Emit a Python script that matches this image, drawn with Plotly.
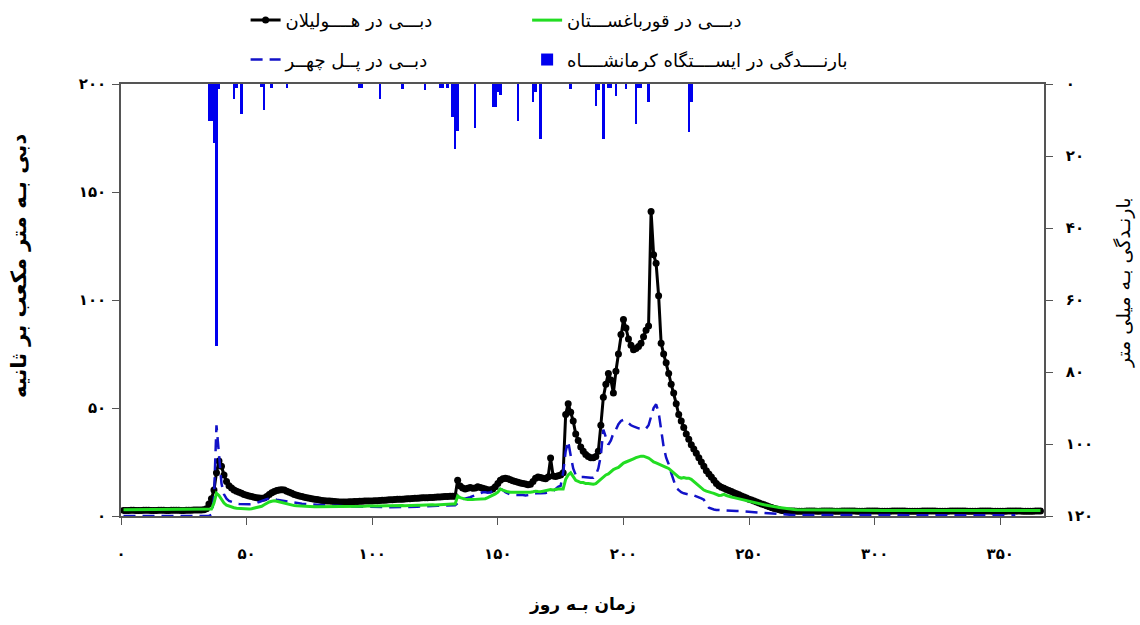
import plotly.graph_objects as go

# Day of the water year
days = list(range(1, 367))

# Daily discharge (m3/s) at Hulilan
q_hulilan = [
    2.6, 2.6, 2.6, 2.7, 2.7, 2.6, 2.6, 2.6, 2.7, 2.7,
    2.7, 2.6, 2.6, 2.6, 2.7, 2.7, 2.7, 2.6, 2.6, 2.7,
    2.7, 2.7, 2.7, 2.6, 2.6, 2.7, 2.7, 2.7, 2.8, 2.8,
    2.8, 2.8, 2.9, 3.4, 5.5, 8.0, 12.0, 20.0, 25.5, 23.0,
    19.0, 16.0, 14.0, 13.0, 12.0, 11.5, 11.0, 10.5, 10.0, 9.6,
    9.3, 9.0, 8.7, 8.5, 8.3, 8.2, 8.3, 9.0, 10.0, 10.8,
    11.3, 11.8, 12.0, 12.2, 12.0, 11.5, 11.0, 10.5, 10.0, 9.6,
    9.3, 9.0, 8.7, 8.4, 8.2, 8.0, 7.8, 7.6, 7.4, 7.2,
    7.1, 7.0, 6.9, 6.8, 6.7, 6.6, 6.5, 6.5, 6.5, 6.5,
    6.6, 6.6, 6.7, 6.7, 6.8, 6.8, 6.9, 6.9, 7.0, 7.0,
    7.1, 7.1, 7.2, 7.3, 7.3, 7.4, 7.5, 7.5, 7.6, 7.7,
    7.8, 7.8, 7.9, 8.0, 8.0, 8.1, 8.2, 8.2, 8.3, 8.4,
    8.4, 8.5, 8.6, 8.6, 8.7, 8.8, 8.8, 8.9, 9.0, 9.0,
    9.1, 9.1, 9.2, 16.6, 13.9, 13.0, 12.5, 12.8, 13.2, 12.8,
    13.0, 13.5, 13.2, 12.8, 12.5, 12.2, 12.0, 12.5, 13.5, 15.0,
    16.5, 17.2, 17.5, 17.2, 16.8, 16.3, 16.0, 15.6, 15.3, 15.0,
    14.8, 14.5, 14.7, 16.0, 17.5, 18.0, 17.8, 17.5, 17.2, 18.0,
    26.8, 18.5, 18.3, 18.6, 19.0, 20.0, 47.0, 52.0, 48.0, 44.0,
    38.0, 35.0, 32.0, 30.0, 28.5, 27.5, 27.0, 27.0, 27.5, 30.0,
    42.0, 55.0, 61.0, 66.0, 63.0, 57.0, 67.0, 75.0, 84.0, 91.0,
    87.0, 82.0, 79.0, 77.0, 77.5, 78.5, 80.0, 83.0, 86.0, 88.0,
    141.0, 121.0, 117.0, 102.0, 80.0, 75.0, 71.0, 66.0, 61.0, 57.0,
    52.0, 47.0, 44.0, 41.0, 38.0, 35.5, 33.0, 31.0, 29.0, 27.0,
    25.0, 23.0, 21.0, 19.5, 18.0, 16.5, 15.0, 14.0, 13.3, 12.8,
    12.3, 11.8, 11.3, 10.8, 10.3, 9.8, 9.3, 8.8, 8.3, 7.8,
    7.4, 6.9, 6.5, 6.0, 5.6, 5.2, 4.7, 4.3, 3.9, 3.5,
    3.2, 2.9, 2.6, 2.4, 2.3, 2.3, 2.3, 2.3, 2.2, 2.2,
    2.2, 2.2, 2.3, 2.3, 2.3, 2.3, 2.2, 2.2, 2.3, 2.3,
    2.3, 2.3, 2.3, 2.2, 2.2, 2.2, 2.3, 2.3, 2.3, 2.3,
    2.3, 2.3, 2.2, 2.2, 2.2, 2.2, 2.3, 2.3, 2.3, 2.3,
    2.3, 2.2, 2.2, 2.2, 2.2, 2.2, 2.3, 2.3, 2.3, 2.3,
    2.3, 2.3, 2.2, 2.2, 2.2, 2.2, 2.2, 2.2, 2.3, 2.3,
    2.3, 2.3, 2.3, 2.3, 2.2, 2.2, 2.2, 2.2, 2.2, 2.3,
    2.3, 2.3, 2.3, 2.3, 2.3, 2.3, 2.2, 2.2, 2.2, 2.2,
    2.2, 2.3, 2.3, 2.3, 2.3, 2.3, 2.2, 2.2, 2.2, 2.2,
    2.2, 2.2, 2.3, 2.3, 2.3, 2.3, 2.3, 2.3, 2.2, 2.2,
    2.2, 2.2, 2.2, 2.3, 2.3, 2.3,
]

# Daily discharge (m3/s) at Ghorbaghestan
q_ghorbaghestan = [
    2.9, 2.9, 2.9, 3.0, 2.9, 2.9, 2.9, 3.0, 3.0, 2.9,
    2.9, 2.9, 3.0, 2.9, 2.9, 2.9, 3.0, 2.9, 2.9, 2.9,
    3.0, 3.0, 2.9, 2.9, 2.9, 3.0, 2.9, 2.9, 2.9, 3.0,
    2.9, 2.9, 3.0, 3.0, 3.1, 3.2, 6.0, 10.5, 9.5, 7.5,
    6.0, 5.0, 4.5, 4.0, 3.8, 3.6, 3.5, 3.4, 3.3, 3.2,
    3.2, 3.4, 3.6, 3.8, 4.0, 4.5, 5.2, 6.0, 6.5, 6.8,
    7.0, 6.8, 6.5, 6.2, 5.8, 5.4, 5.1, 4.9, 4.8, 4.7,
    4.6, 4.6, 4.5, 4.5, 4.4, 4.4, 4.3, 4.3, 4.3, 4.2,
    4.2, 4.2, 4.3, 4.2, 4.3, 4.3, 4.3, 4.4, 4.3, 4.4,
    4.4, 4.4, 4.5, 4.4, 4.5, 4.5, 4.5, 4.6, 4.5, 4.6,
    4.6, 4.6, 4.7, 4.6, 4.7, 4.7, 4.7, 4.8, 4.7, 4.8,
    4.8, 4.9, 4.8, 4.9, 4.9, 5.0, 4.9, 5.0, 5.0, 5.1,
    5.0, 5.1, 5.1, 5.2, 5.1, 5.2, 5.2, 5.3, 5.3, 5.4,
    5.4, 5.5, 5.5, 9.2, 8.5, 8.0, 7.8, 7.6, 7.5, 7.6,
    7.7, 7.8, 7.7, 7.7, 8.0, 8.5, 9.0, 9.6, 10.2, 11.0,
    12.5, 12.0, 11.5, 11.2, 11.0, 11.0, 10.8, 10.8, 11.0, 11.0,
    10.8, 10.8, 11.0, 11.2, 11.5, 11.3, 11.2, 11.5, 11.8, 12.0,
    12.2, 12.0, 12.3, 12.5, 12.5, 12.5, 17.0, 19.0, 20.0, 18.0,
    16.5, 16.0, 15.5, 15.5, 15.0, 15.0, 14.7, 14.7, 15.0, 16.0,
    17.0, 18.0, 19.0, 19.5, 20.5, 21.5, 22.0, 22.5, 23.5, 24.5,
    25.0, 25.4, 26.0, 26.5, 27.0, 27.5, 27.7, 27.7, 27.3, 26.8,
    26.0, 25.0, 24.6, 24.0, 23.5, 23.0, 22.5, 22.0, 21.0, 20.0,
    19.0, 18.0, 17.5, 17.8, 17.5, 17.5, 17.0, 16.0, 15.0, 14.0,
    13.0, 12.0, 11.5, 11.3, 10.8, 10.5, 10.0, 9.5, 9.6, 10.0,
    9.5, 9.0, 8.8, 8.5, 8.2, 8.0, 7.6, 7.3, 7.0, 6.8,
    6.5, 6.3, 6.1, 5.8, 5.5, 5.2, 5.0, 4.7, 4.5, 4.3,
    4.1, 3.9, 3.7, 3.5, 3.3, 3.1, 3.0, 3.0, 2.9, 2.9,
    2.9, 2.8, 2.8, 2.9, 2.8, 2.8, 2.7, 2.8, 2.8, 2.7,
    2.7, 2.8, 2.7, 2.7, 2.8, 2.7, 2.6, 2.7, 2.7, 2.6,
    2.7, 2.7, 2.6, 2.6, 2.7, 2.6, 2.6, 2.7, 2.6, 2.6,
    2.6, 2.7, 2.6, 2.6, 2.5, 2.6, 2.6, 2.5, 2.6, 2.6,
    2.5, 2.6, 2.5, 2.5, 2.6, 2.5, 2.5, 2.6, 2.5, 2.5,
    2.5, 2.6, 2.5, 2.5, 2.4, 2.5, 2.5, 2.4, 2.5, 2.5,
    2.4, 2.5, 2.5, 2.4, 2.4, 2.5, 2.4, 2.4, 2.5, 2.4,
    2.4, 2.5, 2.4, 2.4, 2.4, 2.5, 2.4, 2.4, 2.4, 2.5,
    2.4, 2.4, 2.5, 2.4, 2.4, 2.4, 2.5, 2.4, 2.4, 2.4,
    2.5, 2.4, 2.4, 2.5, 2.5, 2.5,
]

# Daily discharge (m3/s) at Pol-e Chehr
q_polchehr = [
    0.0, 0.0, 0.0, 0.0, 0.0, 0.0, 0.0, 0.0, 0.0, 0.0,
    0.0, 0.0, 0.0, 0.0, 0.0, 0.0, 0.0, 0.0, 0.0, 0.0,
    0.0, 0.0, 0.0, 0.0, 0.0, 0.0, 0.0, 0.0, 0.0, 0.0,
    0.0, 0.0, 0.0, 0.0, 0.0, 0.5, 8.0, 42.0, 30.0, 15.0,
    10.0, 8.0, 7.0, 6.5, 6.0, 5.8, 5.6, 5.5, 5.4, 5.3,
    5.4, 5.5, 5.7, 6.0, 6.5, 7.0, 7.5, 7.8, 8.0, 8.0,
    7.8, 7.5, 7.3, 7.0, 6.8, 6.6, 6.5, 6.3, 6.1, 5.9,
    5.8, 5.7, 5.6, 5.5, 5.4, 5.3, 5.2, 5.1, 5.0, 5.0,
    4.9, 4.9, 4.8, 4.8, 4.7, 4.7, 4.6, 4.6, 4.5, 4.5,
    4.5, 4.4, 4.4, 4.4, 4.3, 4.3, 4.3, 4.2, 4.2, 4.2,
    4.2, 4.1, 4.1, 4.1, 4.1, 4.0, 4.0, 4.0, 4.0, 4.0,
    4.0, 4.0, 4.1, 4.1, 4.2, 4.2, 4.3, 4.3, 4.4, 4.4,
    4.5, 4.5, 4.6, 4.6, 4.7, 4.7, 4.8, 4.8, 4.9, 4.9,
    5.0, 5.0, 5.0, 6.0, 7.4, 7.8, 8.0, 8.3, 8.7, 9.2,
    9.6, 10.0, 10.5, 11.0, 11.0, 10.8, 11.0, 11.5, 12.0, 12.5,
    12.5, 12.0, 11.0, 10.3, 10.0, 9.8, 9.8, 10.0, 10.0, 9.7,
    9.5, 9.6, 9.8, 10.2, 10.5, 10.6, 10.5, 10.5, 10.7, 11.0,
    11.0, 11.5, 12.5, 13.5, 14.0, 20.0, 30.0, 34.6, 28.0, 22.0,
    19.0, 18.5, 18.0, 18.0, 17.8, 17.7, 17.7, 17.7, 19.0, 22.0,
    28.0, 40.0, 36.0, 33.0, 35.0, 38.4, 40.0, 42.5, 44.0, 44.5,
    44.0, 43.0, 42.0, 41.5, 41.0, 40.6, 40.5, 40.0, 40.5, 42.0,
    46.0, 50.0, 51.7, 48.0, 40.0, 32.0, 27.0, 24.0, 20.0, 16.0,
    13.0, 12.0, 11.0, 10.5, 10.2, 10.0, 10.0, 9.6, 9.0, 8.5,
    8.2, 7.6, 5.2, 3.8, 3.3, 3.0, 2.8, 2.7, 2.6, 2.5,
    2.5, 2.4, 2.4, 2.3, 2.3, 2.3, 2.2, 2.1, 2.0, 1.9,
    1.8, 1.7, 1.6, 1.5, 1.4, 1.3, 1.2, 1.1, 1.0, 0.9,
    0.8, 0.8, 0.7, 0.7, 0.6, 0.6, 0.5, 0.5, 0.5, 0.5,
    0.5, 0.5, 0.4, 0.4, 0.5, 0.4, 0.4, 0.4, 0.4, 0.4,
    0.4, 0.4, 0.4, 0.4, 0.4, 0.4, 0.4, 0.4, 0.4, 0.4,
    0.4, 0.4, 0.4, 0.4, 0.4, 0.4, 0.4, 0.3, 0.4, 0.4,
    0.4, 0.4, 0.3, 0.4, 0.4, 0.3, 0.3, 0.4, 0.3, 0.3,
    0.3, 0.3, 0.4, 0.3, 0.3, 0.3, 0.3, 0.3, 0.3, 0.3,
    0.3, 0.3, 0.3, 0.3, 0.3, 0.3, 0.3, 0.3, 0.3, 0.3,
    0.3, 0.3, 0.3, 0.3, 0.3, 0.3, 0.3, 0.3, 0.3, 0.3,
    0.3, 0.3, 0.3, 0.3, 0.3, 0.3, 0.3, 0.3, 0.3, 0.3,
    0.3, 0.3, 0.3, 0.3, 0.3, 0.3,
]

# Daily rainfall (mm) at Kermanshah station, rainy days only
rain_days = [35, 36, 37, 38, 39, 45, 46, 48, 56, 57, 60, 66,
             95, 96, 103, 112, 121, 127, 128, 130, 132, 133, 134, 141,
             148, 149, 150, 151, 158, 164, 165, 167, 179,
             189, 190, 192, 194, 195, 197, 201, 205, 206, 207, 210,
             226, 227]
rain_mm = [10.2, 10.2, 16.3, 72.7, 1.5, 4.2, 1.0, 8.4, 0.8, 7.3, 1.0, 1.2,
           1.2, 1.0, 4.2, 1.5, 1.8, 1.0, 1.0, 1.0, 9.3, 18.1, 13.0, 12.3,
           6.3, 6.3, 2.3, 3.0, 10.2, 5.1, 2.2, 15.2, 1.5,
           6.0, 1.8, 15.2, 1.0, 1.0, 3.2, 1.5, 11.2, 1.2, 1.2, 5.1,
           13.2, 5.1]

# Tick values and Persian tick labels
x_tickvals = [0, 50, 100, 150, 200, 250, 300, 350]
x_ticktext = ["۰", "۵۰", "۱۰۰", "۱۵۰", "۲۰۰", "۲۵۰", "۳۰۰", "۳۵۰"]
q_tickvals = [0, 50, 100, 150, 200]
q_ticktext = ["۰", "۵۰", "۱۰۰", "۱۵۰", "۲۰۰"]
rain_tickvals = [0, 20, 40, 60, 80, 100, 120]
rain_ticktext = ["۰", "۲۰", "۴۰", "۶۰", "۸۰", "۱۰۰", "۱۲۰"]

FONT = "DejaVu Sans"
AXIS_COLOR = "#555555"

fig = go.Figure()

fig.add_trace(go.Bar(
    x=rain_days, y=rain_mm, yaxis="y2", width=1.0,
    marker=dict(color="#0000ee", line=dict(width=0)),
    name="بارنــــدگی در ایســــتگاه کرمانشــــاه",
    legend="legend2", legendrank=2, legendgroup="rain",
))

fig.add_trace(go.Scatter(
    x=days, y=q_hulilan, mode="lines+markers",
    line=dict(color="black", width=3),
    marker=dict(color="black", size=7, symbol="circle"),
    name="دبـــی در هــــولیلان",
    legend="legend", legendrank=1, legendgroup="hulilan",
))

fig.add_trace(go.Scatter(
    x=days, y=q_polchehr, mode="lines",
    line=dict(color="#1212c8", width=2.5, dash="12px,7px"),
    name="دبــی در پــل چهــر",
    legend="legend", legendrank=2, legendgroup="polchehr",
))

fig.add_trace(go.Scatter(
    x=days, y=q_ghorbaghestan, mode="lines",
    line=dict(color="#22dd22", width=3),
    name="دبـــی در قورباغســـتان",
    legend="legend2", legendrank=1, legendgroup="ghorbaghestan",
))

tick_font = dict(family=FONT, size=15, color="black", weight="bold")
legend_font = dict(family=FONT, size=18, color="black")

fig.update_layout(
    width=1140, height=625,
    margin=dict(l=121, r=96, t=84, b=109, autoexpand=False),
    paper_bgcolor="white", plot_bgcolor="white",
    bargap=0,
    xaxis=dict(
        range=[0, 367.4], tickvals=x_tickvals, ticktext=x_ticktext,
        ticks="outside", ticklen=7, tickwidth=1.2, tickcolor=AXIS_COLOR,
        showline=True, linecolor=AXIS_COLOR, linewidth=1.5, mirror=True,
        showgrid=False, zeroline=False, tickfont=tick_font,
        ticklabelstandoff=16,
    ),
    yaxis=dict(
        range=[0, 200], tickvals=q_tickvals, ticktext=q_ticktext,
        ticks="outside", ticklen=7, tickwidth=1.2, tickcolor=AXIS_COLOR,
        showline=True, linecolor=AXIS_COLOR, linewidth=1.5,
        showgrid=False, zeroline=False, tickfont=tick_font,
        ticklabelstandoff=3,
    ),
    yaxis2=dict(
        overlaying="y", side="right",
        range=[120, 0], tickvals=rain_tickvals, ticktext=rain_ticktext,
        ticks="outside", ticklen=7, tickwidth=1.2, tickcolor=AXIS_COLOR,
        showline=True, linecolor=AXIS_COLOR, linewidth=1.5,
        showgrid=False, zeroline=False, tickfont=tick_font,
        ticklabelstandoff=10,
    ),
    legend=dict(
        x=0.135, y=1.19, xanchor="left", yanchor="top",
        orientation="v", font=legend_font, bgcolor="rgba(0,0,0,0)",
        tracegroupgap=13,
    ),
    legend2=dict(
        x=0.44, y=1.19, xanchor="left", yanchor="top",
        orientation="v", font=legend_font, bgcolor="rgba(0,0,0,0)",
        tracegroupgap=13,
    ),
    showlegend=True,
    annotations=[
        dict(text="زمان بـه روز", xref="paper", yref="paper",
             x=0.5, y=-0.205, xanchor="center", yanchor="middle",
             showarrow=False, font=dict(family=FONT, size=17, color="black", weight="bold")),
        dict(text="دبی بـه متر مکعب بر ثانیه", xref="paper", yref="paper",
             x=-0.11, y=0.58, xanchor="center", yanchor="middle", textangle=-90,
             showarrow=False, font=dict(family=FONT, size=21, color="black", weight="bold")),
        dict(text="بارنـدگی بـه میلی متر", xref="paper", yref="paper",
             x=1.086, y=0.54, xanchor="center", yanchor="middle", textangle=-90,
             showarrow=False, font=dict(family=FONT, size=19, color="black")),
    ],
)

fig.write_html("out.html")
